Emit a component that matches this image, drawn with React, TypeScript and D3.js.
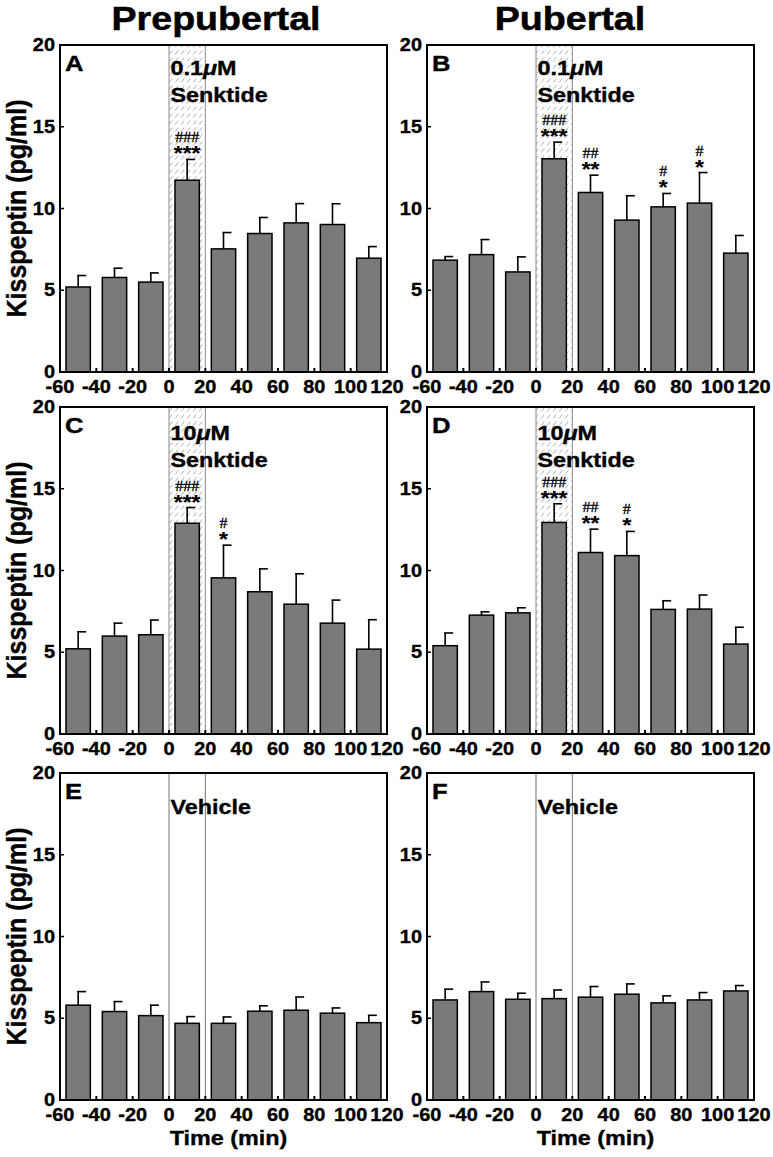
import React from 'react';
import * as d3 from 'd3';

// ---------- data ----------
const binCenters = [-50, -30, -10, 10, 30, 50, 70, 90, 110];
const xTickValues = [-60, -40, -20, 0, 20, 40, 60, 80, 100, 120];
const yTickValues = [0, 5, 10, 15, 20];

const meanA = [5.2, 5.78, 5.5, 11.73, 7.53, 8.47, 9.12, 9.02, 6.96];
const semA = [0.7, 0.57, 0.56, 1.27, 1.0, 0.98, 1.18, 1.27, 0.71];
const starsA = ['', '', '', '***', '', '', '', '', ''];
const hashA = ['', '', '', '###', '', '', '', '', ''];

const meanB = [6.84, 7.18, 6.12, 13.04, 10.98, 9.29, 10.1, 10.33, 7.27];
const semB = [0.22, 0.92, 0.92, 1.02, 1.06, 1.49, 0.82, 1.87, 1.08];
const starsB = ['', '', '', '***', '**', '', '*', '*', ''];
const hashB = ['', '', '', '###', '##', '', '#', '#', ''];

const meanC = [5.21, 5.99, 6.07, 12.89, 9.55, 8.7, 7.94, 6.78, 5.19];
const semC = [1.04, 0.79, 0.9, 0.96, 2.0, 1.4, 1.86, 1.41, 1.8];
const starsC = ['', '', '', '***', '*', '', '', '', ''];
const hashC = ['', '', '', '###', '#', '', '', '', ''];

const meanD = [5.4, 7.27, 7.41, 12.94, 11.1, 10.91, 7.62, 7.64, 5.5];
const semD = [0.78, 0.2, 0.31, 1.14, 1.43, 1.48, 0.53, 0.86, 1.03];
const starsD = ['', '', '', '***', '**', '*', '', '', ''];
const hashD = ['', '', '', '###', '##', '#', '', '', ''];

const meanE = [5.8, 5.41, 5.16, 4.69, 4.69, 5.43, 5.49, 5.31, 4.73];
const semE = [0.83, 0.61, 0.64, 0.41, 0.39, 0.33, 0.81, 0.32, 0.45];

const meanF = [6.12, 6.63, 6.16, 6.2, 6.29, 6.47, 5.94, 6.12, 6.67];
const semF = [0.66, 0.59, 0.37, 0.53, 0.65, 0.63, 0.43, 0.45, 0.33];

const none = ['', '', '', '', '', '', '', '', ''];

const columnTitles = ['Prepubertal', 'Pubertal'];
const yAxisLabel = 'Kisspeptin (pg/ml)';
const xAxisLabel = 'Time (min)';

// ---------- layout ----------
const SX = 1.14;
const SANS = '"Liberation Sans", Arial, Helvetica, sans-serif';
const SERIF = '"Liberation Serif", "Times New Roman", serif';
const W = 327;
const H = 327;
const colX = [60, 427];
const rowY = [45, 407, 773];
const BAR_FILL = '#7a7a7a';

function T({ x, y, size, anchor = 'start', family = SANS, weight = 'bold', children, fill = '#000', thick = 0.35 }: any) {
  return (
    <text
      transform={`translate(${x},${y}) scale(${SX},1)`}
      fontSize={size}
      textAnchor={anchor}
      fontFamily={family}
      fontWeight={weight}
      fill={fill}
      stroke={thick > 0 ? fill : 'none'}
      strokeWidth={thick}
    >
      {children}
    </text>
  );
}

function Panel({ x0, y0, means, sems, stars, hashes, letter, dose, vehicle, yLabel, xLabel, textOff }: any) {
  const x = d3.scaleLinear().domain([-60, 120]).range([x0, x0 + W]);
  const y = d3.scaleLinear().domain([0, 20]).range([y0 + H, y0]);
  const binW = x(20) - x(0);
  const barW = binW * 0.67;
  const capW = 8;
  return (
    <g>
      {/* treatment window */}
      {vehicle ? (
        <g>
          <line x1={x(0)} x2={x(0)} y1={y0} y2={y0 + H} stroke="#777" strokeWidth={1} />
          <line x1={x(20)} x2={x(20)} y1={y0} y2={y0 + H} stroke="#777" strokeWidth={1} />
        </g>
      ) : (
        <rect x={x(0)} y={y0} width={x(20) - x(0)} height={H} fill="url(#hatch)" stroke="#8a8a8a" strokeWidth={1} />
      )}
      {/* bars */}
      {means.map((m: number, i: number) => {
        const cx = x(binCenters[i]);
        const top = y(m + sems[i]);
        return (
          <g key={i}>
            <line x1={cx} x2={cx} y1={y(m)} y2={top} stroke="#000" strokeWidth={1.6} />
            <line x1={cx - 1} x2={cx + capW} y1={top} y2={top} stroke="#000" strokeWidth={1.6} />
            <rect x={cx - barW / 2} y={y(m)} width={barW} height={y(0) - y(m)} fill={BAR_FILL} stroke="#000" strokeWidth={1.5} />
            {stars[i] ? (
              <T x={cx} y={top + 1} size={20} anchor="middle" thick={0.2}>{stars[i]}</T>
            ) : null}
            {hashes[i] ? (
              <T x={cx} y={top - 17} size={14} anchor="middle" family={SERIF} weight="normal" thick={0.3}>{hashes[i]}</T>
            ) : null}
          </g>
        );
      })}
      {/* x ticks inward */}
      {xTickValues.slice(1, -1).map((t) => (
        <line key={'xt' + t} x1={x(t)} x2={x(t)} y1={y0 + H} y2={y0 + H - 4} stroke="#000" strokeWidth={2} />
      ))}
      {yTickValues.slice(1, -1).map((v) => (
        <line key={'yt' + v} x1={x0} x2={x0 + 4} y1={y(v)} y2={y(v)} stroke="#000" strokeWidth={1.5} />
      ))}
      {/* frame */}
      <rect x={x0} y={y0} width={W} height={H} fill="none" stroke="#000" strokeWidth={2} />
      {/* tick labels */}
      {xTickValues.map((t) => (
        <T key={'xl' + t} x={x(t)} y={y0 + H + 21} size={17.5} anchor="middle">{t}</T>
      ))}
      {yTickValues.map((v) => (
        <T key={'yl' + v} x={x0 - 5} y={y(v) + 6} size={17.5} anchor="end">{v}</T>
      ))}
      {/* panel letter */}
      <T x={x0 + 5} y={y0 + 26} size={22.5}>{letter}</T>
      {/* treatment labels */}
      {vehicle ? (
        <T x={x(0) + 1.5} y={y0 + textOff[0]} size={20.5}>Vehicle</T>
      ) : (
        <g>
          <T x={x(0) + 1.5} y={y0 + textOff[0]} size={20.5}>
            {dose}
            <tspan fontStyle="italic">μ</tspan>M
          </T>
          <T x={x(0) + 1.5} y={y0 + textOff[1]} size={20.5}>Senktide</T>
        </g>
      )}
      {yLabel ? (
        <text
          transform={`translate(26,${y0 + H / 2}) scale(${SX},1) rotate(-90)`}
          fontSize={25}
          fontFamily={SANS}
          fontWeight="bold"
          textAnchor="middle"
          stroke="#000"
          strokeWidth={0.35}
        >
          {yAxisLabel}
        </text>
      ) : null}
      {xLabel ? (
        <T x={x0 + W / 2 + 5} y={y0 + H + 45} size={20.5} anchor="middle">{xAxisLabel}</T>
      ) : null}
    </g>
  );
}

export default function App() {
  return (
    <svg
      width={773}
      height={1157}
      style={{ position: 'absolute', left: 0, top: 0, background: '#fff' }}
    >
      <defs>
        <pattern id="hatch" width={6} height={7} patternUnits="userSpaceOnUse">
          <rect width={6} height={7} fill="#fff" />
          <path d="M1.2,5.5 L4.2,1.5" stroke="#9a9a9a" strokeWidth={0.8} />
        </pattern>
      </defs>
      <rect width={773} height={1157} fill="#fff" />
      <T x={216} y={29.5} size={33} anchor="middle" thick={0.5}>{columnTitles[0]}</T>
      <T x={570} y={29.5} size={33} anchor="middle" thick={0.5}>{columnTitles[1]}</T>

      <Panel x0={colX[0]} y0={rowY[0]} means={meanA} sems={semA} stars={starsA} hashes={hashA}
        letter="A" dose="0.1" yLabel textOff={[30, 57]} />
      <Panel x0={colX[1]} y0={rowY[0]} means={meanB} sems={semB} stars={starsB} hashes={hashB}
        letter="B" dose="0.1" textOff={[30, 57]} />
      <Panel x0={colX[0]} y0={rowY[1]} means={meanC} sems={semC} stars={starsC} hashes={hashC}
        letter="C" dose="10" yLabel textOff={[33, 60]} />
      <Panel x0={colX[1]} y0={rowY[1]} means={meanD} sems={semD} stars={starsD} hashes={hashD}
        letter="D" dose="10" textOff={[33, 60]} />
      <Panel x0={colX[0]} y0={rowY[2]} means={meanE} sems={semE} stars={none} hashes={none}
        letter="E" vehicle yLabel xLabel textOff={[41, 0]} />
      <Panel x0={colX[1]} y0={rowY[2]} means={meanF} sems={semF} stars={none} hashes={none}
        letter="F" vehicle xLabel textOff={[41, 0]} />
    </svg>
  );
}
